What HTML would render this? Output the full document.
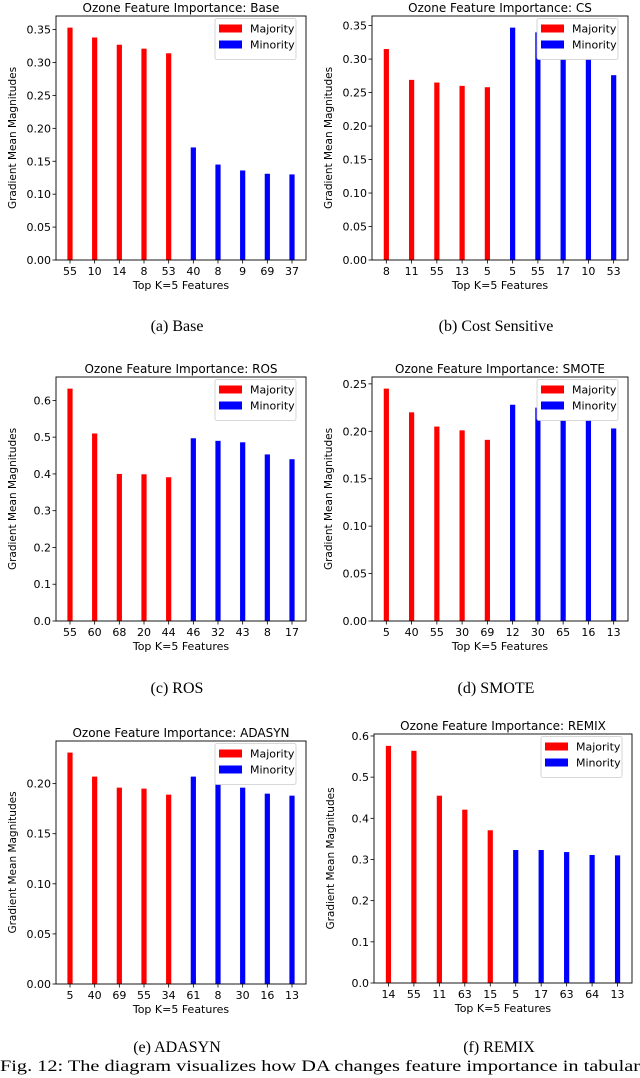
<!DOCTYPE html>
<html><head><meta charset="utf-8"><style>
body{margin:0;background:#fff;width:640px;height:1078px;overflow:hidden}
svg{display:block}
</style></head><body>
<svg id="fig" width="640" height="1078" xmlns="http://www.w3.org/2000/svg"></svg>
<script>
const titles=["Base","CS","ROS","SMOTE","ADASYN","REMIX"];
const captions=["(a)  Base","(b)  Cost Sensitive","(c)  ROS","(d)  SMOTE","(e)  ADASYN","(f)  REMIX"];
const majLabels=[["55","10","14","8","53"],["8","11","55","13","5"],["55","60","68","20","44"],["5","40","55","30","69"],["5","40","69","55","34"],["14","55","11","63","15"]];
const minLabels=[["40","8","9","69","37"],["5","55","17","10","53"],["46","32","43","8","17"],["12","30","65","16","13"],["61","8","30","16","13"],["5","17","63","64","13"]];
const majVals=[[0.353,0.338,0.327,0.321,0.314],[0.315,0.269,0.265,0.260,0.258],[0.632,0.510,0.400,0.399,0.391],[0.245,0.220,0.205,0.201,0.191],[0.231,0.207,0.196,0.195,0.189],[0.576,0.564,0.455,0.421,0.371]];
const minVals=[[0.171,0.145,0.136,0.131,0.130],[0.347,0.340,0.305,0.300,0.276],[0.497,0.490,0.486,0.453,0.440],[0.228,0.225,0.220,0.215,0.203],[0.207,0.199,0.196,0.190,0.188],[0.323,0.323,0.318,0.311,0.310]];
const tickSteps=[0.05,0.05,0.1,0.05,0.05,0.1];
const tickDec=[2,2,1,2,2,1];

const svg=document.getElementById('fig');
const NS="http://www.w3.org/2000/svg";
function mk(tag,attrs,parent,text){const e=document.createElementNS(NS,tag);for(const k in attrs)e.setAttribute(k,attrs[k]);if(text!==undefined)e.textContent=text;parent.appendChild(e);return e;}
const SANS='"DejaVu Sans","Liberation Sans",sans-serif';
const SERIF='"Liberation Serif",serif';
const boxes=[[56,306,16,260],[372,628,16,260],[56,306,377,621],[372,628,377,621],[56,306,741,984],[374,632,734,983]];
const capY=[335,335,697,697,1056,1056];
for(let p=0;p<6;p++){
  const [x0,x1,y0,y1]=boxes[p];
  const g=mk('g',{},svg);
  
  
  const vals=majVals[p].concat(minVals[p]);
  const labs=majLabels[p].concat(minLabels[p]);
  const ymax=Math.max(...vals)*1.05;
  const ys=v=>y1-(v/ymax)*(y1-y0);
  const n=vals.length;
  const pad=(x1-x0)*0.056;
  const xs=i=>x0+pad+i*((x1-x0-2*pad)/(n-1));
  const t=mk('text',{x:(x0+x1)/2,y:y0-4,'text-anchor':'middle','font-size':'12','font-family':SANS},g,'Ozone Feature Importance: '+titles[p]);
  
  for(let i=0;i<n;i++){
    const b=mk('rect',{x:xs(i)-2.6,y:ys(vals[i]),width:5.2,height:y1-ys(vals[i]),fill:i<5?'#ff0000':'#0000ff'},g);
    
    mk('line',{x1:xs(i),x2:xs(i),y1:y1,y2:y1+3.5,stroke:'#000','stroke-width':0.8},g);
    const tl=mk('text',{x:xs(i),y:y1+15,'text-anchor':'middle','font-size':'11','font-family':SANS},g,labs[i]);
    
  }
  const st=tickSteps[p];
  for(let k=0;k*st<=ymax+1e-9;k++){
    const v=k*st,y=ys(v);
    mk('line',{x1:x0-3.5,x2:x0,y1:y,y2:y,stroke:'#000','stroke-width':0.8},g);
    const yl=mk('text',{x:x0-5,y:y+4,'text-anchor':'end','font-size':'11','font-family':SANS},g,v.toFixed(tickDec[p]));
    
  }
  const ax=mk('rect',{x:x0,y:y0,width:x1-x0,height:y1-y0,fill:'none',stroke:'#000','stroke-width':0.9},g);
  
  const xt=mk('text',{x:(x0+x1)/2,y:y1+29,'text-anchor':'middle','font-size':'11','font-family':SANS},g,'Top K=5 Features');
  
  const yt=mk('text',{x:0,y:0,'text-anchor':'middle','font-size':'10.5','font-family':SANS,transform:`translate(${x0-40},${(y0+y1)/2}) rotate(-90)`},g,'Gradient Mean Magnitudes');
  
  const lg=mk('g',{},g);
  
  const lx=x1-91,ly=y0+2.5;
  mk('rect',{x:lx,y:ly,width:81,height:41,rx:2,fill:'#fff',stroke:'#ccc','stroke-width':0.8},lg);
  mk('rect',{x:lx+4,y:ly+6,width:23,height:8,fill:'#ff0000'},lg);
  mk('text',{x:lx+35,y:ly+14,'font-size':'11','font-family':SANS},lg,'Majority');
  mk('rect',{x:lx+4,y:ly+22,width:23,height:8,fill:'#0000ff'},lg);
  mk('text',{x:lx+35,y:ly+30,'font-size':'11','font-family':SANS},lg,'Minority');
  const c=mk('text',{x:(x0+x1)/2-4,y:capY[p]-4,'text-anchor':'middle','font-size':'16','font-family':SERIF},g,captions[p]);
  
}
const fc=mk('text',{x:0,y:1071,'font-size':'16','font-family':SERIF,textLength:'640',lengthAdjust:'spacingAndGlyphs'},svg,'Fig. 12: The diagram visualizes how DA changes feature importance in tabular');

</script>
</body></html>
